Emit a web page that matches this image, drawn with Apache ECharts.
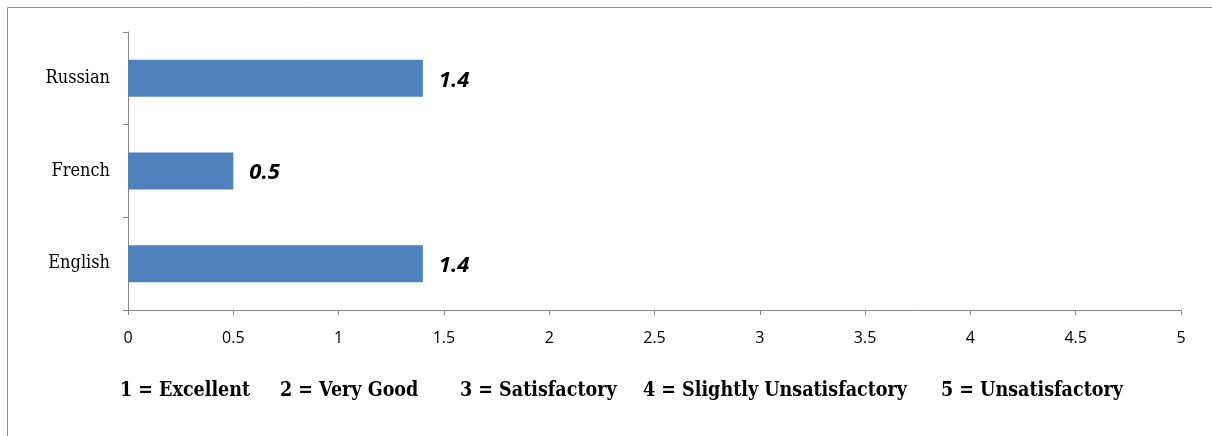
<!DOCTYPE html>
<html><head><meta charset="utf-8">
<script src="https://cdn.jsdelivr.net/npm/echarts@6/dist/echarts.min.js"></script>
<style>html,body{margin:0;padding:0;background:#fff}#c{width:1212px;height:436px}</style>
</head><body><div id="c"></div>
<script>
const categories = ['English', 'French', 'Russian'];
const values = [1.4, 0.5, 1.4];
const xTicks = [0, 0.5, 1, 1.5, 2, 2.5, 3, 3.5, 4, 4.5, 5];
const scaleNotes = ['1 = Excellent', '2 = Very Good', '3 = Satisfactory', '4 = Slightly Unsatisfactory', '5 = Unsatisfactory'];
const noteX = [120, 280, 460, 643, 941];

const chart = echarts.init(document.getElementById('c'), null, {renderer: 'canvas'});
const graphics = [
  {type: 'polyline', shape: {points: [[7.5, 436], [7.5, 7.5], [1212, 7.5]]}, style: {stroke: '#8c8c8c', lineWidth: 1, fill: null}, silent: true}
];
scaleNotes.forEach((t, i) => graphics.push({
  type: 'text', left: noteX[i], top: 381,
  style: {text: t, font: 'bold 19.5px "DejaVu Serif Condensed", "Liberation Serif", serif', fill: '#000'}
}));
chart.setOption({
  animation: false,
  grid: {left: 128, right: 31, top: 32, bottom: 126, containLabel: false},
  xAxis: {
    type: 'value', min: 0, max: 5, interval: 0.5,
    axisLine: {show: true, lineStyle: {color: '#888', width: 1}},
    axisTick: {show: true, length: 5, inside: false, lineStyle: {color: '#888'}},
    splitLine: {show: false},
    axisLabel: {color: '#000', fontSize: 16, fontFamily: '"Open Sans", "Noto Sans", sans-serif', margin: 20,
      formatter: v => xTicks.includes(v) ? String(v) : ''}
  },
  yAxis: {
    type: 'category', data: categories,
    axisLine: {show: true, lineStyle: {color: '#888', width: 1}},
    axisTick: {show: true, length: 5, lineStyle: {color: '#888'}},
    axisLabel: {color: '#000', fontSize: 18, fontFamily: '"DejaVu Serif Condensed", "Liberation Serif", serif', margin: 18}
  },
  series: [{
    type: 'bar', data: values, barWidth: '40%',
    itemStyle: {color: '#4f81bd'},
    label: {show: true, position: 'right', distance: 16, color: '#000',
      fontSize: 22, fontWeight: 'bold', fontStyle: 'italic', fontFamily: '"Open Sans", "Noto Sans", sans-serif',
      offset: [0, 2]}
  }],
  graphic: graphics
});
</script></body></html>
